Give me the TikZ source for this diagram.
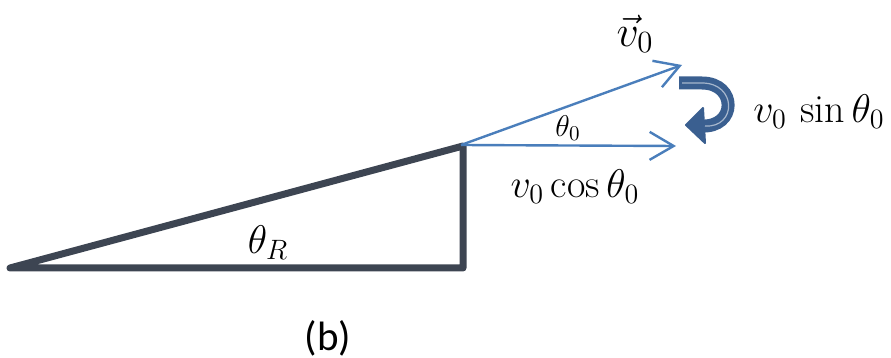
\RequirePackage{fix-cm}
\documentclass[tikz,border=0pt]{standalone}
\usepackage{fontspec}
\newfontfamily\capfont{Carlito}
\usetikzlibrary{arrows.meta}
\definecolor{tricol}{HTML}{3D4552}
\definecolor{vcol}{HTML}{4A7EBB}
\definecolor{curlcol}{HTML}{3A5F90}
\begin{document}
\begin{tikzpicture}[x=0.5pt,y=-0.5pt,
  tri/.style={draw=tricol,line width=3.5pt,line join=round},
  vecarrow/.style={draw=vcol,line width=1.2pt,-{Straight Barb[length=12pt,width=14pt]}},
  curl/.style={draw=curlcol,line width=6.5pt},
  curlhead/.style={fill=curlcol,draw=curlcol,line width=1pt,line join=round},
  curlin/.style={draw=white,opacity=0.55,line width=0.6pt},
  lab/.style={inner sep=0pt,font=\fontsize{20}{24}\selectfont},
  smalllab/.style={inner sep=0pt,font=\fontsize{15}{18}\selectfont},
  biglab/.style={inner sep=0pt,font=\fontsize{22}{26}\selectfont},
  caplab/.style={inner sep=0pt,font=\capfont\fontsize{20.5}{24}\selectfont}]
\useasboundingbox (0,0) rectangle (891,358);
% triangle
\coordinate (A) at (10,268);
\coordinate (B) at (463,268);
\coordinate (C) at (463,146);
\draw[tri] (A) -- (C) -- (B) -- cycle;
% velocity vectors
\coordinate (O) at (461,145);
\coordinate (V) at (682,65);
\coordinate (H) at (676,146);
\draw[vecarrow] (O) -- (V);
\draw[vecarrow] (O) -- (H);
% curl arrow
\coordinate (c1) at (679,83);
\coordinate (c2) at (702,83);
\coordinate (c3) at (737,83);
\coordinate (c4) at (737,128);
\coordinate (c5) at (701,126);
\draw[curl] (c1) -- (c2) .. controls (c3) and (c4) .. (c5);
\coordinate (h1) at (686,125);
\coordinate (h2) at (703,108);
\coordinate (h3) at (705,143);
\draw[curlhead] (h1) -- (h2) -- (h3) -- cycle;
\coordinate (d1) at (682,83);
\coordinate (d5) at (705,126);
\draw[curlin] (d1) -- (c2) .. controls (c3) and (c4) .. (d5);
% labels
\node[biglab] (lv) at (635,34) {$\vec{v}_0$};
\node[smalllab] (lt) at (568,128) {$\theta_0$};
\node[lab] (lc) at (575,187) {$v_0\cos\theta_0$};
\node[lab] (ls) at (819,112) {$v_0\,\sin\theta_0$};
\node[lab] (lr) at (268,243) {$\theta_R$};
\node[caplab] (lb) at (328,338) {(b)};
\end{tikzpicture}
\end{document}
